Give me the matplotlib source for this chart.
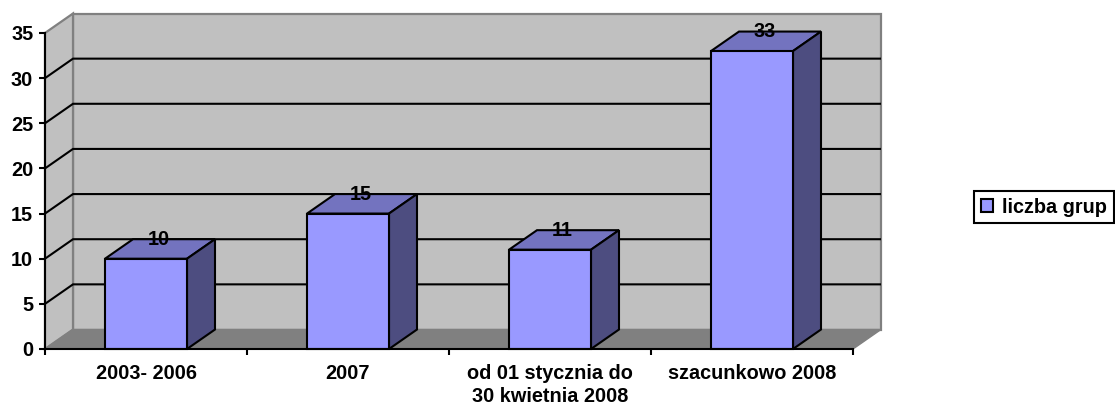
import matplotlib
matplotlib.use("Agg")
import matplotlib.pyplot as plt
from matplotlib.patches import Polygon, Patch

categories = ["2003- 2006", "2007", "od 01 stycznia do\n30 kwietnia 2008", "szacunkowo 2008"]
values = [10, 15, 11, 33]
series_name = "liczba grup"
y_ticks = [0, 5, 10, 15, 20, 25, 30, 35]

W, H = 1115, 407
plt.rcParams["font.family"] = ["Liberation Sans", "DejaVu Sans"]
fig = plt.figure(figsize=(W / 100, H / 100), dpi=100)
L, R, T, B = 45, 853, 33, 349
ax = fig.add_axes([L / W, 1 - B / H, (R - L) / W, (B - T) / H])
n = len(categories)
ymax = y_ticks[-1]
ax.set_xlim(0, n)
ax.set_ylim(0, ymax)
ax.patch.set_visible(False)

DX = 28 * n / (R - L)          # depth offset, x in category units
DY = 19.5 * ymax / (B - T)     # depth offset, y in value units
BW = 82 * n / (R - L)          # bar width

LW = 1.5
FS = 14.3
wall = "#C0C0C0"
floor = "#808080"
wall_edge = "#808080"

def poly(pts, fc, ec, z, lw=LW):
    ax.add_patch(Polygon(pts, closed=True, facecolor=fc, edgecolor=ec, linewidth=lw,
                         zorder=z, clip_on=False, joinstyle="miter"))

# walls and floor
poly([(DX, DY), (n + DX, DY), (n + DX, ymax + DY), (DX, ymax + DY)], wall, wall_edge, 1, 1.6)
poly([(0, 0), (DX, DY), (DX, ymax + DY), (0, ymax)], wall, wall_edge, 1, 1.6)
poly([(0, 0), (n, 0), (n + DX, DY), (DX, DY)], floor, wall_edge, 1, 1.0)

# gridlines
for t in y_ticks[1:-1]:
    ax.plot([0, DX, n + DX], [t, t + DY, t + DY], color="black", lw=LW, zorder=2,
            clip_on=False, solid_capstyle="butt", solid_joinstyle="miter")

# bars
for i, v in enumerate(values):
    x0 = i + 0.5 - BW / 2
    x1 = x0 + BW
    poly([(x0, v), (x1, v), (x1 + DX, v + DY), (x0 + DX, v + DY)], "#7373BF", "black", 3)
    poly([(x1, 0), (x1 + DX, DY), (x1 + DX, v + DY), (x1, v)], "#4D4D80", "black", 3)
    poly([(x0, 0), (x1, 0), (x1, v), (x0, v)], "#9999FF", "black", 4)
    ax.text(i + 0.5 + DX * 0.45, v + DY, str(v), ha="center", va="center",
            fontsize=FS, fontweight="bold", color="black", zorder=5)

# axes
for s in ("top", "right"):
    ax.spines[s].set_visible(False)
for s in ("left", "bottom"):
    ax.spines[s].set_linewidth(LW)
    ax.spines[s].set_zorder(6)
ax.set_yticks(y_ticks)
ax.tick_params(axis="y", length=4.5, width=LW, pad=4.0)
ax.set_xticks([i + 0.5 for i in range(n)])
ax.set_xticklabels(categories, fontsize=FS, fontweight="bold", linespacing=1.28)
ax.set_xticks(list(range(n + 1)), minor=True)
ax.tick_params(axis="x", which="major", length=0, pad=11)
ax.tick_params(axis="x", which="minor", length=4.5, width=LW)
for lb in ax.get_yticklabels():
    lb.set_fontweight("bold")
    lb.set_fontsize(FS)

# legend
leg = fig.legend(handles=[Patch(facecolor="#9999FF", edgecolor="black", linewidth=LW, label=series_name)],
                 loc="center", bbox_to_anchor=(1044 / W, 1 - 207 / H), frameon=True, fancybox=False,
                 edgecolor="black", framealpha=1, handlelength=0.6, handleheight=0.6,
                 handletextpad=0.45, borderpad=0.35, borderaxespad=0,
                 prop={"size": FS, "weight": "bold", "family": "Liberation Sans"})
leg.get_frame().set_linewidth(1.5)

fig.savefig("out.png", dpi=100, facecolor="white")
